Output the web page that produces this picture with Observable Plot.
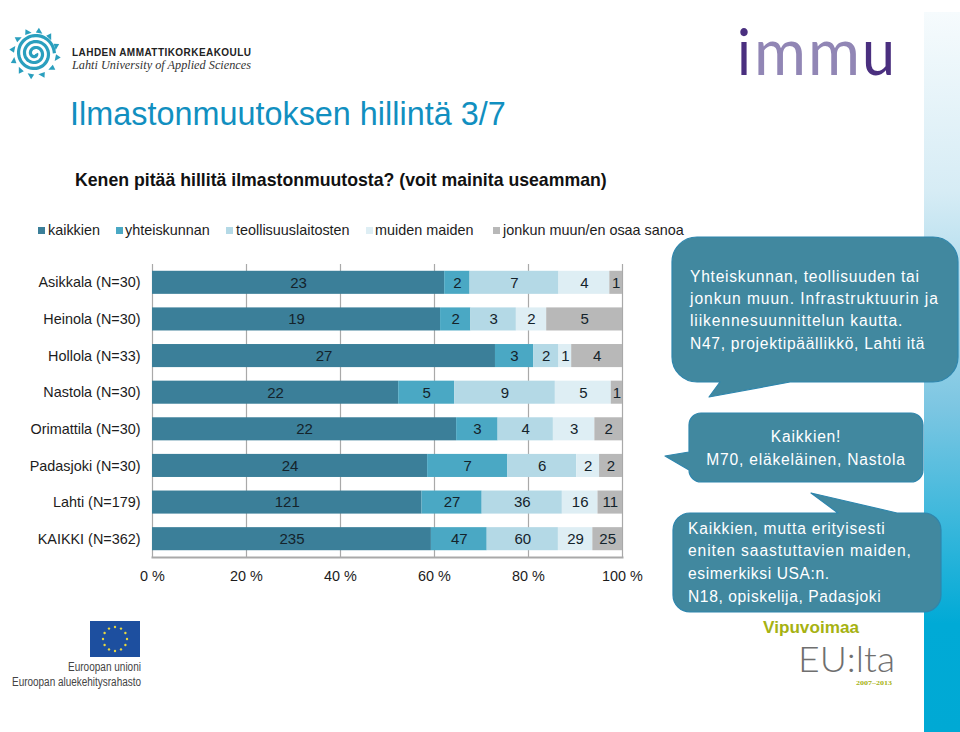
<!DOCTYPE html>
<html lang="fi">
<head>
<meta charset="utf-8">
<script src="https://cdn.jsdelivr.net/npm/d3@7"></script>
<script src="https://cdn.jsdelivr.net/npm/@observablehq/plot@0.6"></script>
<style>
html,body{margin:0;padding:0;background:#fff;}
body{width:960px;height:732px;position:relative;overflow:hidden;font-family:"Liberation Sans",Arial,sans-serif;}
.abs{position:absolute;white-space:nowrap;}
#stripe{position:absolute;left:924px;top:12px;width:36px;height:720px;background:linear-gradient(#f6fbfd 0%,#d6ecf5 25%,#7cc6e2 55%,#00aad6 85%,#00a9d4 100%);}
#chart{position:absolute;left:0;top:0;}
#title{left:70px;top:95px;font-size:32.4px;line-height:38px;color:#118fc0;}
#subtitle{left:75px;top:170px;font-size:17.7px;line-height:20px;font-weight:bold;color:#111;}
.lg{top:222px;font-size:14.4px;line-height:17px;color:#1c1c1c;}
.sw{position:absolute;top:227px;width:7px;height:7px;}
#deco,#callouts{position:absolute;left:0;top:0;}
.c{left:0;color:#fff;font-size:15.6px;line-height:20px;letter-spacing:.8px;}
</style>
</head>
<body>
<div id="stripe"></div>
<div class="abs" id="title">Ilmastonmuutoksen hillintä 3/7</div>
<div class="abs" id="subtitle">Kenen pitää hillitä ilmastonmuutosta? (voit mainita useamman)</div>
<div id="legend"></div>
<div id="chart"></div>

<svg id="deco" width="960" height="732" xmlns="http://www.w3.org/2000/svg">
  <g id="sun"></g>
  <text x="72" y="56" font-family="Liberation Sans" font-weight="bold" font-size="10" fill="#222" textLength="179" lengthAdjust="spacing">LAHDEN AMMATTIKORKEAKOULU</text>
  <text x="72" y="69" font-family="Liberation Serif" font-style="italic" font-size="11.5" fill="#333" textLength="179" lengthAdjust="spacingAndGlyphs">Lahti University of Applied Sciences</text>
  <g font-family="Lato" font-size="63">
    <text x="737" y="75" fill="#4a2f7f" textLength="14" lengthAdjust="spacingAndGlyphs">i</text>
    <text x="754" y="75" fill="#9186b5" textLength="52" lengthAdjust="spacingAndGlyphs">m</text>
    <text x="808" y="75" fill="#9186b5" textLength="52" lengthAdjust="spacingAndGlyphs">m</text>
    <text x="862" y="75" fill="#4a2f7f" textLength="33" lengthAdjust="spacingAndGlyphs">u</text>
  </g>
  <rect x="90" y="621" width="50" height="36" fill="#1d4f9f"/>
  <g id="stars"></g>
  <text x="141" y="671" text-anchor="end" font-family="Liberation Sans" font-size="12.5" fill="#444" textLength="73" lengthAdjust="spacingAndGlyphs">Euroopan unioni</text>
  <text x="141" y="686" text-anchor="end" font-family="Liberation Sans" font-size="12.5" fill="#444" textLength="129" lengthAdjust="spacingAndGlyphs">Euroopan aluekehitysrahasto</text>
  <text x="763" y="632.5" font-family="Liberation Sans" font-weight="bold" font-size="16.5" fill="#a6b212" textLength="96" lengthAdjust="spacingAndGlyphs">Vipuvoimaa</text>
  <text x="798" y="671.5" font-family="Lato" font-weight="300" font-size="36" fill="#6f6f6f" textLength="97" lengthAdjust="spacingAndGlyphs">EU:lta</text>
  <text x="856" y="685" font-family="Liberation Serif" font-weight="bold" font-size="7" fill="#a6b212" textLength="36" lengthAdjust="spacingAndGlyphs">2007–2013</text>
</svg>

<svg id="callouts" width="960" height="732" xmlns="http://www.w3.org/2000/svg">
  <g fill="#41889f" stroke="#2f86ad" stroke-width="1.2" stroke-linejoin="round">
    <path d="M697 237H933A25 25 0 0 1 958 262V357A25 25 0 0 1 933 382H790L709 397L720 382H697A25 25 0 0 1 672 357V262A25 25 0 0 1 697 237Z"/>
    <path d="M701 413H911A12 12 0 0 1 923 425V470A12 12 0 0 1 911 482H701A12 12 0 0 1 689 470L665 456L689 452V425A12 12 0 0 1 701 413Z"/>
    <path d="M690 513H838L811 493L897 513H924A17 17 0 0 1 941 530V595A17 17 0 0 1 924 612H690A17 17 0 0 1 673 595V530A17 17 0 0 1 690 513Z"/>
  </g>
</svg>
<div class="abs c" style="left:690px;top:267px;letter-spacing:.75px">Yhteiskunnan, teollisuuden tai</div>
<div class="abs c" style="left:690px;top:288.5px;letter-spacing:.95px">jonkun muun. Infrastruktuurin ja</div>
<div class="abs c" style="left:690px;top:311px;letter-spacing:.9px">liikennesuunnittelun kautta.</div>
<div class="abs c" style="left:690px;top:334px;letter-spacing:.72px">N47, projektipäällikkö, Lahti itä</div>
<div class="abs c" style="left:689px;width:234px;text-align:center;top:427px">Kaikkien!</div>
<div class="abs c" style="left:689px;width:234px;text-align:center;top:449.5px">M70, eläkeläinen, Nastola</div>
<div class="abs c" style="left:688px;top:519px">Kaikkien, mutta erityisesti</div>
<div class="abs c" style="left:688px;top:541px;letter-spacing:.9px">eniten saastuttavien maiden,</div>
<div class="abs c" style="left:688px;top:564px;letter-spacing:.6px">esimerkiksi USA:n.</div>
<div class="abs c" style="left:688px;top:587px;letter-spacing:.6px">N18, opiskelija, Padasjoki</div>

<script>
const places = ["Asikkala (N=30)","Heinola (N=30)","Hollola (N=33)","Nastola (N=30)","Orimattila (N=30)","Padasjoki (N=30)","Lahti (N=179)","KAIKKI (N=362)"];
const categories = ["kaikkien","yhteiskunnan","teollisuuslaitosten","muiden maiden","jonkun muun/en osaa sanoa"];
const kaikkien = [23,19,27,22,22,24,121,235];
const yhteiskunnan = [2,2,3,5,3,7,27,47];
const teollisuuslaitosten = [7,3,2,9,4,6,36,60];
const muidenMaiden = [4,2,1,5,3,2,16,29];
const jonkunMuun = [1,5,4,1,2,2,11,25];
const colors = ["#3b7f99","#4aa8c4","#b4d9e6","#deeef4","#b8b8b8"];
const tickValues = [0,0.2,0.4,0.6,0.8,1];
const legendX = [[38,48],[116,125],[226,236],[366,375],[493,503]];

const series = [kaikkien,yhteiskunnan,teollisuuslaitosten,muidenMaiden,jonkunMuun];
const rows = places.flatMap((place,i)=>categories.map((cat,j)=>({place,cat,value:series[j][i]})));

const plot = Plot.plot({
  width:960,height:732,
  marginLeft:152,marginRight:338,marginTop:264,marginBottom:175,
  style:{background:"transparent",fontFamily:"Liberation Sans, Arial, sans-serif",color:"#1c1c1c"},
  x:{domain:[0,1],label:null},
  y:{domain:places,label:null,paddingInner:0.37,paddingOuter:0.185,round:false},
  color:{domain:categories,range:colors},
  marks:[
    Plot.ruleX(tickValues,{stroke:"#a9a9a9",strokeWidth:1.2,strokeOpacity:1}),
    Plot.frame({anchor:"bottom",stroke:"#a9a9a9",strokeWidth:2,strokeOpacity:1}),
    Plot.barX(rows,Plot.stackX({x:"value",y:"place",fill:"cat",order:null,offset:"normalize"})),
    Plot.text(rows,Plot.stackX({x:"value",y:"place",z:"cat",text:d=>String(d.value),order:null,offset:"normalize",fontSize:15,fill:"#14232b"})),
    Plot.axisX({ticks:tickValues,tickSize:0,tickPadding:13,tickFormat:d=>`${Math.round(d*100)} %`,fontSize:14.4,label:null,anchor:"bottom"}),
    Plot.axisY({tickSize:0,tickPadding:12,fontSize:14.4,label:null,anchor:"left"})
  ]
});
document.getElementById("chart").appendChild(plot);

const legend = document.getElementById("legend");
categories.forEach((c,i)=>{
  const s=document.createElement("div");s.className="sw";s.style.left=legendX[i][0]+"px";s.style.background=colors[i];legend.appendChild(s);
  const t=document.createElement("div");t.className="abs lg";t.style.left=legendX[i][1]+"px";t.textContent=c;legend.appendChild(t);
});

// decoration: logo spiral and EU stars
const NS="http://www.w3.org/2000/svg";
const sun=document.getElementById("sun");
const cx=35,cy=53.5;
const pts=[];for(let a=0;a<=6*Math.PI;a+=0.12){const r=1.5+a*0.95;pts.push([cx+r*Math.cos(a),cy+r*Math.sin(a)]);}
const sp=document.createElementNS(NS,"path");sp.setAttribute("d","M"+pts.map(p=>p.map(v=>v.toFixed(1)).join(",")).join("L"));
sp.setAttribute("fill","none");sp.setAttribute("stroke","#2a9fbe");sp.setAttribute("stroke-width","3.2");sun.appendChild(sp);
for(let k=0;k<12;k++){
  const a=k/12*2*Math.PI+0.2;
  const q=document.createElementNS(NS,"path");
  const p=(r,d)=>[cx+r*Math.cos(a+d),cy+r*Math.sin(a+d)].map(v=>v.toFixed(1)).join(",");
  q.setAttribute("d",`M${p(21,-.16)}L${p(26,-.05)}L${p(21,.16)}Z`);q.setAttribute("fill","#2a9fbe");sun.appendChild(q);
}
const stars=document.getElementById("stars");
for(let k=0;k<12;k++){
  const a=k/12*2*Math.PI;
  const c=document.createElementNS(NS,"circle");
  c.setAttribute("cx",115+12*Math.cos(a));c.setAttribute("cy",639+12*Math.sin(a));c.setAttribute("r",1.2);c.setAttribute("fill","#e8d840");stars.appendChild(c);
}
</script>
</body>
</html>
